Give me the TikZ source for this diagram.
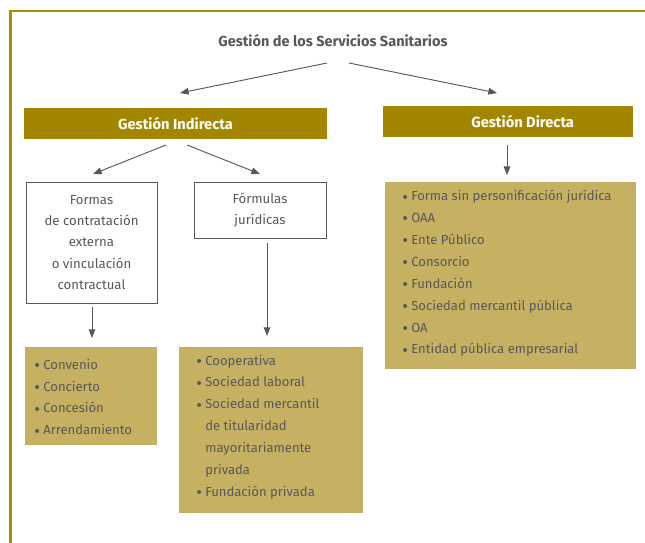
\documentclass[tikz,border=0pt]{standalone}
\usepackage{fontspec}
\usepackage{graphicx}
\setmainfont{Fira Sans}
\usetikzlibrary{arrows.meta}
\definecolor{olive}{RGB}{163,134,0}
\definecolor{lightolive}{RGB}{198,176,98}
\definecolor{txtgray}{RGB}{88,88,90}
\definecolor{frame}{RGB}{168,142,0}
\newcommand\bul{\raisebox{-0.17em}{\scalebox{1.35}{•}}\hspace{2.5pt}}
\newcommand\nobul{\phantom{\bul}}
\begin{document}
\begin{tikzpicture}[x=0.75pt,y=-0.75pt,
  arr/.style={draw=txtgray, line width=0.7pt, -{Triangle[length=6.5pt,width=5pt]}},
  hdr/.style={fill=olive, draw=none, text=white, font=\fontsize{11}{13}\selectfont\bfseries, inner sep=0pt},
  whitebox/.style={draw=txtgray, line width=0.6pt, fill=white, text=txtgray, align=center, inner sep=0pt,
    font=\fontsize{9.9}{16}\selectfont},
  listbox/.style={fill=lightolive, draw=none, inner sep=0pt},
  listtxt/.style={text=txtgray, align=left, inner sep=0pt, anchor=west,
    font=\fontsize{9.8}{16.4}\selectfont}
]
\useasboundingbox (0,0) rectangle (645,542);
\clip (0,0) rectangle (645,542);
% frame
\draw[frame, line width=1.6pt] (10.5,560) -- (10.5,11) -- (660,11);

% title
\node[text=txtgray, font=\fontsize{10.9}{13}\selectfont\bfseries, inner sep=0pt] (title) at (333,41) {Gestión de los Servicios Sanitarios};

% headers
\node[hdr, minimum width=227.25pt, minimum height=23.25pt] (indir) at (175.5,123.5) {Gestión Indirecta};
\node[hdr, minimum width=187.5pt, minimum height=23.25pt] (dir) at (508,121.5) {\hspace*{22pt}Gestión Directa};

% second level boxes
\node[whitebox, minimum width=98.25pt, minimum height=90.75pt] (formas) at (91.5,242.5)
  {Formas\\de contratación\\externa\\o vinculación\\contractual};
\node[whitebox, minimum width=99pt, minimum height=42pt] (formulas) at (260,210)
  {Fórmulas\\jurídicas};

% list boxes
\node[listbox, minimum width=99pt, minimum height=73.5pt] (l1) at (91,396) {};
\node[listbox, minimum width=138pt, minimum height=124.5pt] (l2) at (271,430) {};
\node[listbox, minimum width=188.25pt, minimum height=140.25pt] (l3) at (510.5,275.5) {};

\node[listtxt] (l1t) at (34,398) {\bul Convenio\\\bul Concierto\\\bul Concesión\\\bul Arrendamiento};
\node[listtxt] (l2t) at (196,427) {\bul Cooperativa\\\bul Sociedad laboral\\\bul Sociedad mercantil\\\nobul de titularidad\\\nobul mayoritariamente\\\nobul privada\\\bul Fundación privada};
\node[listtxt] (l3t) at (402,273.5) {\bul Forma sin personificación jurídica\\\bul OAA\\\bul Ente Público\\\bul Consorcio\\\bul Fundación\\\bul Sociedad mercantil pública\\\bul OA\\\bul Entidad pública empresarial};

% connector end points
\coordinate (t1) at (327,63);
\coordinate (t2) at (349,63);
\coordinate (e1) at (180,93);
\coordinate (e2) at (497,93);
\coordinate (i1) at (166,145);
\coordinate (i2) at (187,145);
\coordinate (f1) at (93,174);
\coordinate (f2) at (260,174);
\coordinate (d1) at (507,145);
\coordinate (d2) at (507,175);
\coordinate (a1) at (92,307);
\coordinate (a2) at (92,338);
\coordinate (b1) at (267,243);
\coordinate (b2) at (267,336);

\draw[arr] (t1) -- (e1);
\draw[arr] (t2) -- (e2);
\draw[arr] (i1) -- (f1);
\draw[arr] (i2) -- (f2);
\draw[arr] (d1) -- (d2);
\draw[arr] (a1) -- (a2);
\draw[arr] (b1) -- (b2);
\end{tikzpicture}
\end{document}
